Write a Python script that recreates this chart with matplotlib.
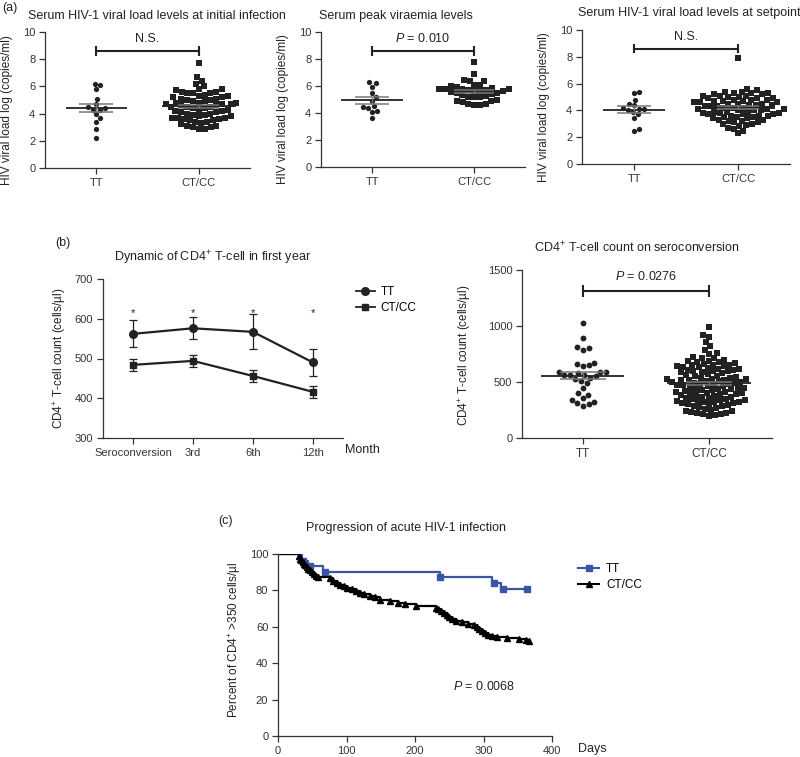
import numpy as np
import matplotlib
matplotlib.use('Agg')
import matplotlib.pyplot as plt
from matplotlib.lines import Line2D

plt.rcParams['font.family'] = ['Liberation Sans', 'DejaVu Sans']
plt.rcParams['mathtext.fontset'] = 'custom'
plt.rcParams['mathtext.rm'] = 'Liberation Sans'
plt.rcParams['mathtext.it'] = 'Liberation Sans:italic'
plt.rcParams['mathtext.bf'] = 'Liberation Sans:bold'

# ---- data ----
groups = ['TT', 'CT/CC']

# (a) initial infection
a1_tt = [6.2, 6.1, 5.8, 5.1, 4.7, 4.5, 4.4, 4.3, 4.3, 4.0, 3.7, 3.4, 2.9, 2.2]
a1_ct = [7.7, 6.7, 6.4, 6.2, 6.0, 5.8, 5.8, 5.7, 5.6, 5.6, 5.5, 5.5, 5.5, 5.4, 5.3,
         5.3, 5.2, 5.2, 5.1, 5.1, 5.0, 5.0, 4.9, 4.9, 4.8, 4.8, 4.8, 4.7, 4.7, 4.7,
         4.6, 4.6, 4.5, 4.5, 4.5, 4.4, 4.4, 4.3, 4.3, 4.2, 4.2, 4.1, 4.1, 4.0, 4.0,
         3.9, 3.9, 3.8, 3.8, 3.7, 3.7, 3.7, 3.6, 3.6, 3.5, 3.5, 3.4, 3.4, 3.3, 3.2,
         3.1, 3.1, 3.0, 3.0, 2.9, 2.9]
# (a) peak viraemia
a2_tt = [6.3, 6.25, 5.95, 5.45, 5.15, 4.9, 4.5, 4.45, 4.4, 4.15, 4.1, 3.65]
a2_ct = [7.8, 6.9, 6.45, 6.4, 6.35, 6.1, 6.05, 6.0, 5.95, 5.85, 5.8, 5.8, 5.75, 5.75,
         5.7, 5.7, 5.65, 5.6, 5.6, 5.55, 5.5, 5.45, 5.4, 5.3, 5.25, 5.2, 5.2, 5.15,
         4.95, 4.9, 4.9, 4.85, 4.7, 4.65, 4.6, 4.6]
# (a) setpoint
a3_tt = [5.4, 5.3, 4.8, 4.5, 4.4, 4.2, 4.1, 4.1, 4.0, 3.9, 3.7, 3.4, 2.6, 2.5]
a3_ct = [7.9, 5.6, 5.5, 5.4, 5.4, 5.3, 5.3, 5.3, 5.2, 5.2, 5.1, 5.1, 5.1, 5.0, 5.0,
         4.9, 4.9, 4.9, 4.8, 4.8, 4.8, 4.7, 4.7, 4.7, 4.6, 4.6, 4.6, 4.5, 4.5, 4.5,
         4.4, 4.4, 4.4, 4.3, 4.3, 4.3, 4.2, 4.2, 4.2, 4.1, 4.1, 4.1, 4.0, 4.0, 4.0,
         3.9, 3.9, 3.9, 3.8, 3.8, 3.8, 3.7, 3.7, 3.7, 3.6, 3.6, 3.6, 3.5, 3.5, 3.5,
         3.4, 3.4, 3.3, 3.3, 3.2, 3.2, 3.1, 3.1, 3.0, 3.0, 2.9, 2.8, 2.7, 2.6, 2.5, 2.3]

# (b) dynamic of CD4 in first year
months = ['Seroconversion', '3rd', '6th', '12th']
b1_tt_mean = [562, 576, 567, 490]
b1_tt_err = [34, 28, 44, 33]
b1_ct_mean = [484, 494, 456, 416]
b1_ct_err = [15, 15, 15, 15]

# (b) CD4 count on seroconversion
b2_tt = [1030, 890, 800, 790, 810, 660, 640, 650, 670, 590, 590, 590, 560, 580,
         550, 560, 530, 540, 510, 560, 490, 450, 400, 360, 380, 340, 310, 290, 300, 320]
b2_ct = [990, 920, 905, 860, 820, 790, 760, 750, 720, 715, 710, 700, 690, 690, 680,
         675, 670, 660, 655, 650, 650, 645, 640, 635, 630, 625, 620, 615, 610, 605,
         600, 600, 595, 590, 585, 580, 570, 560, 555, 550, 545, 540, 535, 530, 530,
         525, 520, 520, 515, 510, 505, 500, 500, 495, 490, 485, 480, 480, 475, 470,
         465, 460, 455, 450, 445, 440, 440, 435, 430, 425, 420, 415, 410, 405, 400,
         400, 395, 390, 385, 380, 375, 370, 365, 360, 355, 350, 345, 340, 335, 330,
         330, 325, 320, 320, 315, 310, 305, 300, 295, 290, 285, 280, 270, 260, 250,
         245, 240, 230, 225, 220, 215, 210, 205, 200]

# (c) Kaplan-Meier
tt_days = [0, 35, 44, 66, 236, 313, 325, 363]
tt_surv = [100, 96.3, 93.6, 90.3, 87.2, 84.2, 80.6, 80.6]
tt_mark_days = [37, 47, 68, 237, 315, 328, 363]
tt_mark_surv = [96.3, 93.6, 90.3, 87.2, 84.2, 80.6, 80.6]
ct_days = [0, 30, 32, 34, 36, 38, 40, 42, 44, 47, 50, 53, 56, 59, 76, 80, 86, 90, 96,
           100, 108, 114, 120, 126, 134, 142, 149, 163, 175, 185, 202, 230, 234, 238,
           242, 246, 250, 254, 260, 268, 278, 286, 290, 294, 298, 302, 306, 312, 320,
           334, 352, 362, 366]
ct_surv = [100, 99, 97.5, 96.5, 95.5, 94.5, 93.8, 93, 92, 91, 90, 89, 88, 87.3, 86.6,
           85.2, 84.2, 83.2, 82.2, 81.3, 80.6, 79.5, 78.6, 77.8, 76.8, 76.2, 74.7, 74,
           73.2, 72.4, 71.6, 70.6, 69.6, 68.8, 67.6, 66.6, 65.2, 64.3, 63.4, 62.6, 61.8,
           60.8, 59.8, 58.8, 57.6, 56.6, 55.6, 55, 54.5, 54, 53.2, 52.6, 52.4]

W, H = 800, 757
DARK = '#222222'
BLUE = '#3a55a4'

fig = plt.figure(figsize=(W / 100, H / 100), dpi=100)


def add_ax(l, t, r, b):
    return fig.add_axes([l / W, 1 - b / H, (r - l) / W, (b - t) / H])


def ftext(x, y, s, **kw):
    kw.setdefault('color', DARK)
    return fig.text(x / W, 1 - y / H, s, **kw)


def style(ax):
    for s in ['top', 'right']:
        ax.spines[s].set_visible(False)
    for s in ['left', 'bottom']:
        ax.spines[s].set_color('#333333')
        ax.spines[s].set_linewidth(0.9)
    ax.tick_params(direction='out', length=4, width=0.9, labelsize=8,
                   colors='#333333', pad=3)


def swarm(vals, sx, sy, d):
    # beeswarm offsets (in x data units), placing points in pixel space
    vals = np.asarray(vals, float)
    out = np.zeros(len(vals))
    placed = []
    for i in np.argsort(vals):
        y = vals[i] * sy
        cands = [0.0]
        for px_, py_ in placed:
            dy = abs(py_ - y)
            if dy < d:
                dx = np.sqrt(d * d - dy * dy)
                cands += [px_ + dx, px_ - dx]
        cands.sort(key=abs)
        for c in cands:
            if all((c - px_) ** 2 + (y - py_) ** 2 >= d * d - 1e-6 for px_, py_ in placed):
                break
        placed.append((c, y))
        out[i] = c / sx
    return out


def dot_panel(ax, tt, ct, sx, sy, mw=(0.3, 0.36), ms=(3.8, 4.0), d=(5.5, 6.0)):
    for k, (vals, mk) in enumerate([(tt, 'o'), (ct, 's')]):
        off = swarm(vals, sx, sy, d[k])
        ax.plot(k + off, vals, mk, color=DARK, markersize=ms[k], markeredgewidth=0,
                linestyle='none', zorder=3)
        m = np.mean(vals)
        se = np.std(vals, ddof=1) / np.sqrt(len(vals))
        ax.hlines(m, k - mw[k], k + mw[k], color=DARK, lw=1.3, zorder=4)
        ax.hlines([m - se, m + se], k - mw[k] * 0.55, k + mw[k] * 0.55,
                  color='#777777', lw=1.1, zorder=4)
        ax.vlines(k, m - se, m + se, color='#777777', lw=1.0, zorder=4)


def bracket(ax, y, h, label):
    ax.plot([0, 1], [y, y], color=DARK, lw=1.5, clip_on=False)
    ax.vlines([0, 1], y - h, y + h, color=DARK, lw=1.5, clip_on=False)
    ax.text(0.5, y + h * 1.3, label, ha='center', va='bottom', fontsize=9, color=DARK)


# ---- (a) ----
a_boxes = [(45, 32, 250, 168), (321, 32, 525, 167), (582, 30, 790, 164)]
a_data = [(a1_tt, a1_ct), (a2_tt, a2_ct), (a3_tt, a3_ct)]
a_labels = ['N.S.', r'$\it{P}$ = 0.010', 'N.S.']
for (l, t, r, b), (tt, ct), lab in zip(a_boxes, a_data, a_labels):
    ax = add_ax(l, t, r, b)
    style(ax)
    ax.set_xlim(-0.5, 1.5)
    ax.set_ylim(0, 10)
    ax.set_yticks([0, 2, 4, 6, 8, 10])
    ax.set_xticks([0, 1])
    ax.set_xticklabels(groups)
    sx = (r - l) / 2.0
    sy = (b - t) / 10.0
    dot_panel(ax, tt, ct, sx, sy)
    bracket(ax, 8.6, 0.35, lab)
    ftext(l - 38, (t + b) / 2 + 10, 'HIV viral load log (copies/ml)', rotation=90,
          ha='center', va='center', fontsize=8.5)

ftext(2, 8, '(a)', fontsize=9, va='center')
ftext(28, 16, 'Serum HIV-1 viral load levels at initial infection', fontsize=9, va='center')
ftext(396, 16, 'Serum peak viraemia levels', fontsize=9, va='center', ha='center')
ftext(689, 13, 'Serum HIV-1 viral load levels at setpoint', fontsize=9, va='center', ha='center')

# ---- (b) left: line plot ----
ax = add_ax(103, 279, 343, 438)
style(ax)
xs = np.arange(len(months))
ax.errorbar(xs, b1_tt_mean, yerr=b1_tt_err, color=DARK, marker='o', markersize=5.5,
            lw=1.6, capsize=3, elinewidth=0.9, capthick=0.9)
ax.errorbar(xs, b1_ct_mean, yerr=b1_ct_err, color=DARK, marker='s', markersize=5,
            lw=1.6, capsize=3, elinewidth=0.9, capthick=0.9)
for x in xs:
    ax.text(x, 615, '*', ha='center', va='center', fontsize=8, color=DARK)
ax.set_xlim(-0.5, 3.5)
ax.set_ylim(300, 700)
ax.set_yticks([300, 400, 500, 600, 700])
ax.set_xticks(xs)
ax.set_xticklabels(months, fontsize=8)
ftext(345, 450, 'Month', fontsize=9, va='center', ha='left')
ftext(60, 358, r'CD4$^{+}$ T-cell count (cells/µl)', rotation=90, ha='center',
      va='center', fontsize=8.5)
ftext(213, 258, r'Dynamic of CD4$^{+}$ T-cell in first year', fontsize=9,
      ha='center', va='center')
ftext(55, 243, '(b)', fontsize=9, va='center')
hb = [Line2D([], [], color=DARK, marker='o', markersize=5.5, lw=1.3),
      Line2D([], [], color=DARK, marker='s', markersize=5, lw=1.3)]
fig.legend(hb, groups, loc='upper left', bbox_to_anchor=(350 / W, 1 - 280 / H),
           frameon=False, fontsize=8.5, handlelength=1.6, labelspacing=0.35,
           handletextpad=0.5, borderpad=0)

# ---- (b) right: dot plot ----
l, t, r, b = 522, 270, 772, 438
ax = add_ax(l, t, r, b)
style(ax)
ax.set_xlim(-0.48, 1.5)
ax.set_ylim(0, 1500)
ax.set_yticks([0, 500, 1000, 1500])
ax.set_xticks([0, 1])
ax.set_xticklabels(groups, fontsize=8.5)
dot_panel(ax, b2_tt, b2_ct, (r - l) / 1.98, (b - t) / 1500.0,
          mw=(0.33, 0.33), ms=(4.2, 3.8), d=(6.2, 5.9))
bracket(ax, 1315, 55, r'$\it{P}$ = 0.0276')
ftext(465, 355, r'CD4$^{+}$ T-cell count (cells/µl)', rotation=90, ha='center',
      va='center', fontsize=8.5)
ftext(637, 248, r'CD4$^{+}$ T-cell count on seroconversion', fontsize=9,
      ha='center', va='center')

# ---- (c) Kaplan-Meier ----
ax = add_ax(278, 554, 552, 736)
style(ax)
ax.step(tt_days, tt_surv, where='post', color=BLUE, lw=1.6)
ax.plot(tt_mark_days, tt_mark_surv, 's', color=BLUE, markersize=5, linestyle='none')
ax.step(ct_days, ct_surv, where='post', color='black', lw=1.6)
ax.plot(ct_days[1:], ct_surv[1:], '^', color='black', markersize=4.5, linestyle='none')
ax.set_xlim(0, 400)
ax.set_ylim(0, 100)
ax.set_xticks([0, 100, 200, 300, 400])
ax.set_yticks([0, 20, 40, 60, 80, 100])
ax.text(255, 27, r'$\it{P}$ = 0.0068', fontsize=9, va='center', ha='left', color=DARK)
ftext(578, 749, 'Days', fontsize=9, va='center', ha='left')
ftext(235, 640, r'Percent of CD4$^{+}$ >350 cells/µl', rotation=90, ha='center',
      va='center', fontsize=8.5)
ftext(406, 528, 'Progression of acute HIV-1 infection', fontsize=9, ha='center', va='center')
ftext(218, 521, '(c)', fontsize=9, va='center')
hc = [Line2D([], [], color=BLUE, marker='s', markersize=5, lw=1.5),
      Line2D([], [], color='black', marker='^', markersize=5, lw=1.5)]
fig.legend(hc, groups, loc='upper left', bbox_to_anchor=(572 / W, 1 - 557 / H),
           frameon=False, fontsize=8.5, handlelength=1.8, labelspacing=0.35,
           handletextpad=0.6, borderpad=0)

fig.savefig('out.png', dpi=100)
